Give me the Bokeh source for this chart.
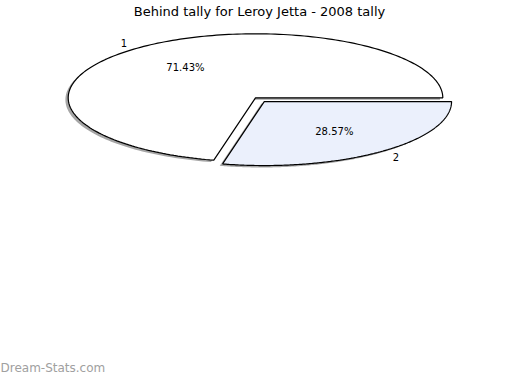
import numpy as np
from bokeh.plotting import figure
from bokeh.models import Range1d, Label, ColumnDataSource
from bokeh.core.properties import value
from bokeh.embed import file_html
from bokeh.resources import INLINE

# ---- data ----
title_text = "Behind tally for Leroy Jetta - 2008 tally"
categories = ["1", "2"]
values = [5, 2]
colors = ["#ffffff", "#ebf0fc"]
explode = [0.0, 0.075]
watermark = "Dream-Stats.com"

# ---- layout ----
W, H = 504, 374
cx_px, cy_px = 255.0, 97.3   # pie centre on canvas
rx_px, ry_px = 187.3, 64.0   # ellipse radii in px

p = figure(width=W, height=H, output_backend="svg", toolbar_location=None,
           title=None, min_border=0,
           x_range=Range1d(-cx_px / rx_px, (W - cx_px) / rx_px),
           y_range=Range1d(-(H - cy_px) / ry_px, cy_px / ry_px))
p.xaxis.visible = False
p.yaxis.visible = False
p.grid.visible = False
p.outline_line_color = None
p.background_fill_color = "white"
p.border_fill_color = "white"

total = float(sum(values))
fracs = [v / total for v in values]

xs, ys, sxs, sys_ = [], [], [], []
lab_x, lab_y, lab_t, lab_align = [], [], [], []
pct_x, pct_y, pct_t = [], [], []
start = 0.0
for cat, f, ex in zip(categories, fracs, explode):
    t1 = start
    t2 = start + f * 360.0
    mid = np.deg2rad((t1 + t2) / 2.0)
    ox, oy = ex * np.cos(mid), ex * np.sin(mid)
    th = np.deg2rad(np.linspace(t1, t2, 200))
    px = np.concatenate([[ox], ox + np.cos(th), [ox]])
    py = np.concatenate([[oy], oy + np.sin(th), [oy]])
    xs.append(list(px))
    ys.append(list(py))
    sxs.append(list(px - 0.015))
    sys_.append(list(py - 0.03))
    lx, ly = ox + 1.1 * np.cos(mid), oy + 1.1 * np.sin(mid)
    lab_x.append(lx)
    lab_y.append(ly)
    lab_t.append(cat)
    lab_align.append("right" if lx < 0 else "left")
    pct_x.append(ox + 0.6 * np.cos(mid))
    pct_y.append(oy + 0.6 * np.sin(mid))
    pct_t.append("%.2f%%" % (f * 100))
    start = t2

# shadows
p.patches(xs=sxs, ys=sys_, fill_color="#4d4d4d", fill_alpha=0.5, line_color=None)
# slices
p.patches(xs=xs, ys=ys, fill_color=colors, line_color="black", line_width=1.2)

font = value("DejaVu Sans")
src_l = ColumnDataSource(dict(x=lab_x, y=lab_y, t=lab_t, a=lab_align))
p.text(x="x", y="y", text="t", text_align="a", text_baseline="middle",
       text_font=font, text_font_size="10px", text_color="black", source=src_l)
src_p = ColumnDataSource(dict(x=pct_x, y=pct_y, t=pct_t))
p.text(x="x", y="y", text="t", text_align="center", text_baseline="middle",
       text_font=font, text_font_size="10px", text_color="black", source=src_p)

p.add_layout(Label(x=259, y=H - 10.5, x_units="screen", y_units="screen",
                   text=title_text, text_align="center", text_baseline="alphabetic",
                   text_font="DejaVu Sans", text_font_size="13px", text_color="black"))
p.add_layout(Label(x=0, y=0, x_units="screen", y_units="screen",
                   text=watermark, text_align="left", text_baseline="bottom",
                   text_font="DejaVu Sans", text_font_size="12px", text_color="#a0a0a0"))

open("out.html", "w").write(file_html(p, INLINE))
